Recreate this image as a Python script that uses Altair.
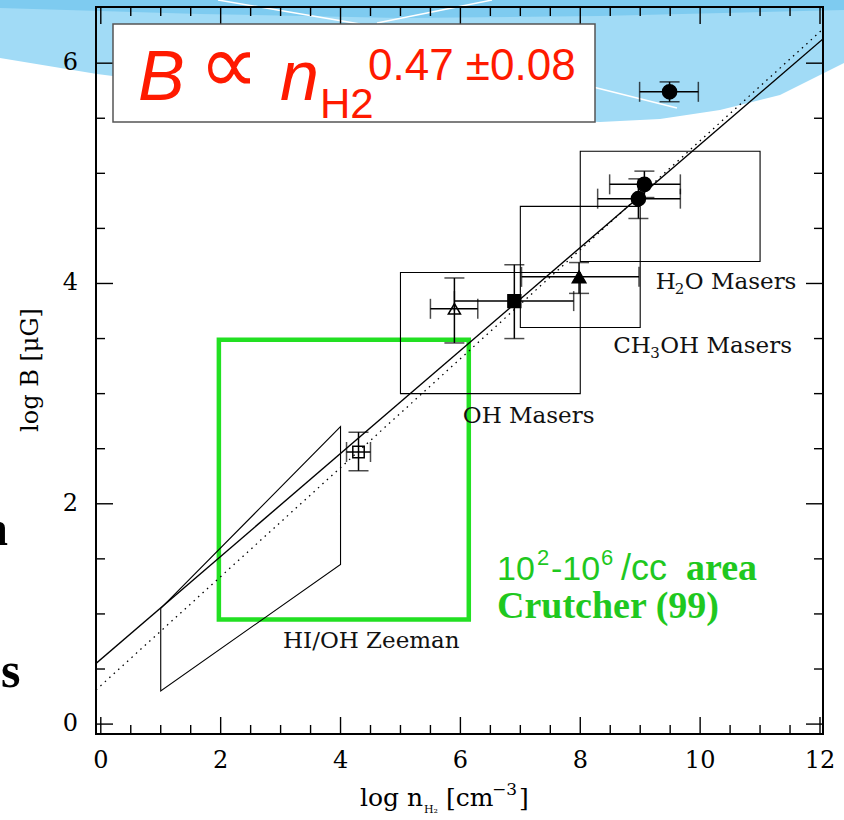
import altair as alt
import pandas as pd

# ---------------- data ----------------
pt_kind = ["open square", "open triangle", "filled square", "filled triangle",
           "filled circle", "filled circle", "filled circle"]
pt_x   = [4.30, 5.90, 6.90, 7.98, 9.07, 8.97, 9.49]
pt_y   = [2.47, 3.77, 3.84, 4.06, 4.90, 4.77, 5.74]
pt_xlo = [4.10, 5.50, 5.90, 7.02, 8.49, 8.29, 8.99]
pt_xhi = [4.50, 6.29, 7.89, 8.98, 9.67, 9.67, 9.97]
pt_ylo = [2.30, 3.46, 3.50, 3.91, 4.78, 4.59, 5.65]
pt_yhi = [2.65, 4.05, 4.17, 4.19, 5.02, 4.95, 5.83]

region_name = ["OH", "CH3OH", "H2O"]
region_x1 = [5.0, 7.0, 8.0]
region_x2 = [8.0, 9.0, 11.0]
region_y1 = [3.0, 3.6, 4.2]
region_y2 = [4.1, 4.7, 5.2]

# label pieces: text, anchor x, anchor y (data), piece kind
label_text = ["OH Masers", "CH", "3", "OH Masers", "H", "2", "O Masers", "HI/OH Zeeman"]
label_x    = [6.04, 8.55, 8.55, 8.55, 9.26, 9.26, 9.26, 3.04]
label_y    = [2.73, 3.37, 3.37, 3.37, 3.95, 3.95, 3.95, 0.69]
label_part = ["main", "main", "sub", "after_ch", "main", "sub_h", "after_h", "main"]

zeeman_x = [1.0, 4.0, 4.0, 1.0, 1.0]
zeeman_y = [1.05, 2.70, 1.45, 0.30, 1.05]

crutcher_x = [1.97, 6.14]
crutcher_y = [0.95, 3.49]

fit_x = [-0.08, 12.05]
fit_solid_y = [0.55, 6.22]
fit_dotted_y = [0.31, 6.31]

x_major = [0, 2, 4, 6, 8, 10, 12]
x_major_label = ["0", "2", "4", "6", "8", "10", "12"]
x_minor = [0.5, 1, 1.5, 2.5, 3, 3.5, 4.5, 5, 5.5, 6.5, 7, 7.5,
           8.5, 9, 9.5, 10.5, 11, 11.5]
y_major = [0, 2, 4, 6]
y_major_label = ["0", "2", "4", "6"]
y_minor = [0.5, 1, 1.5, 2.5, 3, 3.5, 4.5, 5, 5.5]

# slide decoration, in page pixels
banner_px = [0, 97, 300, 450, 600, 660, 720, 780, 844]
banner_py = [58, 74, 100, 115, 122, 119, 110, 95, 63]
band_px = [0, 200, 400, 600, 844]
band_py = [8, 14, 18, 16, 10]
streak_px1 = [218, 377, 593]
streak_py1 = [0, 23, 87]
streak_px2 = [360, 492, 677]
streak_py2 = [24, 0, 108]

# ---------------- layout ----------------
W, H = 727, 727
L, T = 96, 7
PAD = {"left": L, "top": T, "right": 844 - L - W, "bottom": 820 - T - H}
XDOM = [-0.08, 12.05]
YDOM = [-0.09, 6.51]
SERIF = "DejaVu Serif"
SANS = "Liberation Sans"
GREEN = "#1fc81f"
RED = "#ff1a00"


def px(v):
    return alt.value(v - L)


def py(v):
    return alt.value(v - T)


def page_to_x(p):
    return XDOM[0] + (p - L) * (XDOM[1] - XDOM[0]) / W


def page_to_y(p):
    return YDOM[1] - (p - T) * (YDOM[1] - YDOM[0]) / H


xs = alt.Scale(domain=XDOM, nice=False, zero=False)
ys = alt.Scale(domain=YDOM, nice=False, zero=False)


def X(f):
    return alt.X(f, scale=xs, axis=None)


def Y(f):
    return alt.Y(f, scale=ys, axis=None)


one = pd.DataFrame({"k": [0]})
pts = pd.DataFrame({"kind": pt_kind, "x": pt_x, "y": pt_y, "xlo": pt_xlo,
                    "xhi": pt_xhi, "ylo": pt_ylo, "yhi": pt_yhi})
reg = pd.DataFrame({"name": region_name, "x1": region_x1, "x2": region_x2,
                    "y1": region_y1, "y2": region_y2})
labs = pd.DataFrame({"t": label_text, "x": label_x, "y": label_y, "part": label_part})
zee = pd.DataFrame({"x": zeeman_x, "y": zeeman_y, "i": list(range(len(zeeman_x)))})
cru = pd.DataFrame({"x1": [crutcher_x[0]], "x2": [crutcher_x[1]],
                    "y1": [crutcher_y[0]], "y2": [crutcher_y[1]]})
fits = pd.DataFrame({"x": fit_x * 2, "y": fit_solid_y + fit_dotted_y,
                     "fit": ["solid"] * 2 + ["dotted"] * 2})
xmaj = pd.DataFrame({"v": x_major, "lab": x_major_label})
xmin = pd.DataFrame({"v": x_minor})
ymaj = pd.DataFrame({"v": y_major, "lab": y_major_label})
ymin = pd.DataFrame({"v": y_minor})

ban = pd.DataFrame({"x": [page_to_x(p) for p in banner_px],
                    "y": [page_to_y(p) for p in banner_py]})
bnd = pd.DataFrame({"x": [page_to_x(p) for p in band_px],
                    "y": [page_to_y(p) for p in band_py]})
stk = pd.DataFrame({"x1": [page_to_x(p) for p in streak_px1],
                    "y1": [page_to_y(p) for p in streak_py1],
                    "x2": [page_to_x(p) for p in streak_px2],
                    "y2": [page_to_y(p) for p in streak_py2]})
TOP = page_to_y(0)

# ---------------- decoration ----------------
banner = alt.Chart(ban).mark_area(color="#a1dbf6", clip=False).encode(
    x=X("x:Q"), y=Y("y:Q"), y2=alt.Y2(datum=TOP))
band = alt.Chart(bnd).mark_area(color="#7ecbf0", clip=False).encode(
    x=X("x:Q"), y=Y("y:Q"), y2=alt.Y2(datum=TOP))
streaks = alt.Chart(stk).mark_rule(color="white", strokeWidth=1.5, clip=False).encode(
    x=X("x1:Q"), x2="x2:Q", y=Y("y1:Q"), y2="y2:Q")

# ---------------- plot ----------------
frame = alt.Chart(one).mark_rect(fill="transparent", stroke="black", strokeWidth=2).encode(
    x=alt.value(0), x2=alt.value(W), y=alt.value(0), y2=alt.value(H))

MAJ, MIN = 17, 9
tk = dict(color="black", strokeWidth=1.4)
ticks = [
    alt.Chart(xmaj).mark_rule(**tk).encode(x=X("v:Q"), y=alt.value(H), y2=alt.value(H - MAJ)),
    alt.Chart(ymaj).mark_rule(**tk).encode(y=Y("v:Q"), x=alt.value(0), x2=alt.value(MAJ)),
    alt.Chart(xmaj).mark_rule(**tk).encode(x=X("v:Q"), y=alt.value(0), y2=alt.value(MAJ)),
    alt.Chart(xmin).mark_rule(**tk).encode(x=X("v:Q"), y=alt.value(H), y2=alt.value(H - MIN)),
    alt.Chart(xmin).mark_rule(**tk).encode(x=X("v:Q"), y=alt.value(0), y2=alt.value(MIN)),
    alt.Chart(ymaj).mark_rule(**tk).encode(y=Y("v:Q"), x=alt.value(W), x2=alt.value(W - MAJ)),
    alt.Chart(ymin).mark_rule(**tk).encode(y=Y("v:Q"), x=alt.value(0), x2=alt.value(MIN)),
    alt.Chart(ymin).mark_rule(**tk).encode(y=Y("v:Q"), x=alt.value(W), x2=alt.value(W - MIN)),
]
tick_labels = [
    alt.Chart(xmaj).mark_text(font=SERIF, fontSize=24, align="center", baseline="alphabetic",
                              color="black").encode(
        x=X("v:Q"), y=alt.value(H + 34), text="lab:N"),
    alt.Chart(ymaj).mark_text(font=SERIF, fontSize=24, align="right", baseline="middle",
                              color="black").encode(
        y=Y("v:Q"), x=alt.value(-18), text="lab:N"),
]

boxes = alt.Chart(reg).mark_rect(fill="transparent", stroke="black", strokeWidth=1.1).encode(
    x=X("x1:Q"), x2="x2:Q", y=Y("y1:Q"), y2="y2:Q")

lab_base = alt.Chart(labs)
lab_style = dict(font=SERIF, align="left", baseline="alphabetic", color="#111")
label_layers = [
    lab_base.transform_filter(alt.datum.part == "main").mark_text(fontSize=23, **lab_style),
    lab_base.transform_filter(alt.datum.part == "sub").mark_text(fontSize=15, dx=37, dy=5, **lab_style),
    lab_base.transform_filter(alt.datum.part == "after_ch").mark_text(fontSize=23, dx=47, **lab_style),
    lab_base.transform_filter(alt.datum.part == "sub_h").mark_text(fontSize=15, dx=19, dy=5, **lab_style),
    lab_base.transform_filter(alt.datum.part == "after_h").mark_text(fontSize=23, dx=29, **lab_style),
]
label_layers = [c.encode(x=X("x:Q"), y=Y("y:Q"), text="t:N") for c in label_layers]

crutcher = alt.Chart(cru).mark_rect(fill="transparent", stroke="#22e022", strokeWidth=4.5).encode(
    x=X("x1:Q"), x2="x2:Q", y=Y("y1:Q"), y2="y2:Q")

zeeman = alt.Chart(zee).mark_line(color="black", strokeWidth=1.1).encode(
    x=X("x:Q"), y=Y("y:Q"), order="i:Q")

fit_solid = alt.Chart(fits).transform_filter(alt.datum.fit == "solid").mark_line(
    color="black", strokeWidth=1.4, clip=True).encode(x=X("x:Q"), y=Y("y:Q"))
fit_dot = alt.Chart(fits).transform_filter(alt.datum.fit == "dotted").mark_line(
    color="black", strokeWidth=1.3, strokeDash=[1.5, 4.5], clip=True).encode(x=X("x:Q"), y=Y("y:Q"))

eb = dict(color="black", strokeWidth=1.5)
xbars = alt.Chart(pts).mark_rule(**eb).encode(x=X("xlo:Q"), x2="xhi:Q", y=Y("y:Q"))
ybars = alt.Chart(pts).mark_rule(**eb).encode(x=X("x:Q"), y=Y("ylo:Q"), y2="yhi:Q")
cap = dict(color="black", thickness=1.5, size=20)
caps = [
    alt.Chart(pts).mark_tick(orient="vertical", **cap).encode(x=X("xlo:Q"), y=Y("y:Q")),
    alt.Chart(pts).mark_tick(orient="vertical", **cap).encode(x=X("xhi:Q"), y=Y("y:Q")),
    alt.Chart(pts).mark_tick(orient="horizontal", **cap).encode(x=X("x:Q"), y=Y("ylo:Q")),
    alt.Chart(pts).mark_tick(orient="horizontal", **cap).encode(x=X("x:Q"), y=Y("yhi:Q")),
]
kinds = ["open square", "open triangle", "filled square", "filled triangle", "filled circle"]
markers = alt.Chart(pts).mark_point(filled=True, opacity=1, strokeWidth=1.5).encode(
    x=X("x:Q"), y=Y("y:Q"),
    shape=alt.Shape("kind:N", legend=None, scale=alt.Scale(
        domain=kinds, range=["square", "triangle-up", "square", "triangle-up", "circle"])),
    size=alt.Size("kind:N", legend=None, scale=alt.Scale(
        domain=kinds, range=[130, 200, 150, 180, 250])),
    fill=alt.Fill("kind:N", legend=None, scale=alt.Scale(
        domain=kinds, range=["transparent", "transparent", "black", "black", "black"])),
    stroke=alt.value("black"))

# formula box
fbox = alt.Chart(one).mark_rect(fill="white", stroke="#555", strokeWidth=1.5).encode(
    x=px(113), x2=px(595), y=py(24), y2=py(122))


def txt(s, x, y, size, font=SANS, color="black", **kw):
    return alt.Chart(one).mark_text(text=s, font=font, fontSize=size, color=color,
                                    align="left", baseline="alphabetic", **kw).encode(
        x=px(x), y=py(y))


formula = [
    txt("B", 138, 100, 70, color=RED, fontStyle="italic"),
    txt("∝", 199, 93, 84, font="DejaVu Sans", color=RED),
    txt("n", 280, 100, 70, color=RED, fontStyle="italic"),
    txt("H2", 320, 118, 42, color=RED),
    txt("0.47 ±0.08", 368, 80, 44, color=RED),
]
green = [
    txt("10", 497, 580, 34, color=GREEN),
    txt("2", 537, 565, 22, color=GREEN),
    txt("-10", 551, 580, 34, color=GREEN),
    txt("6", 601, 565, 22, color=GREEN),
    txt("/cc", 621, 580, 36, color=GREEN),
    txt("area", 686, 580, 38, font="Liberation Serif", color=GREEN, fontWeight="bold"),
    txt("Crutcher (99)", 497, 618, 38, font="Liberation Serif", color=GREEN, fontWeight="bold"),
]
titles = [
    txt("log n", 360, 806, 25, font=SERIF),
    txt("H₂", 424, 813, 11, font=SERIF),
    txt("[cm", 446, 806, 25, font=SERIF),
    txt("−3", 492, 795, 17, font=SERIF),
    txt("]", 519, 806, 25, font=SERIF),
    alt.Chart(one).mark_text(text="log  B  [μG]", font=SERIF, fontSize=24, angle=270,
                             align="center", baseline="middle", color="black").encode(
        x=px(31), y=py(370)),
    txt("a", -17, 545, 50, font="Liberation Serif", fontWeight="bold"),
    txt("s", 1, 687, 50, font="Liberation Serif", fontWeight="bold"),
]

chart = alt.layer(
    banner, band, streaks,
    crutcher, boxes, zeeman, fit_dot, fit_solid, xbars, ybars, *caps, markers,
    *label_layers, *ticks, *tick_labels, frame, fbox, *formula, *green, *titles
).properties(
    width=W, height=H, padding=PAD, autosize=alt.AutoSizeParams(type="none"),
    background="white").configure_view(stroke=None)

chart.save("out.html", embed_options={"renderer": "svg", "actions": False})
